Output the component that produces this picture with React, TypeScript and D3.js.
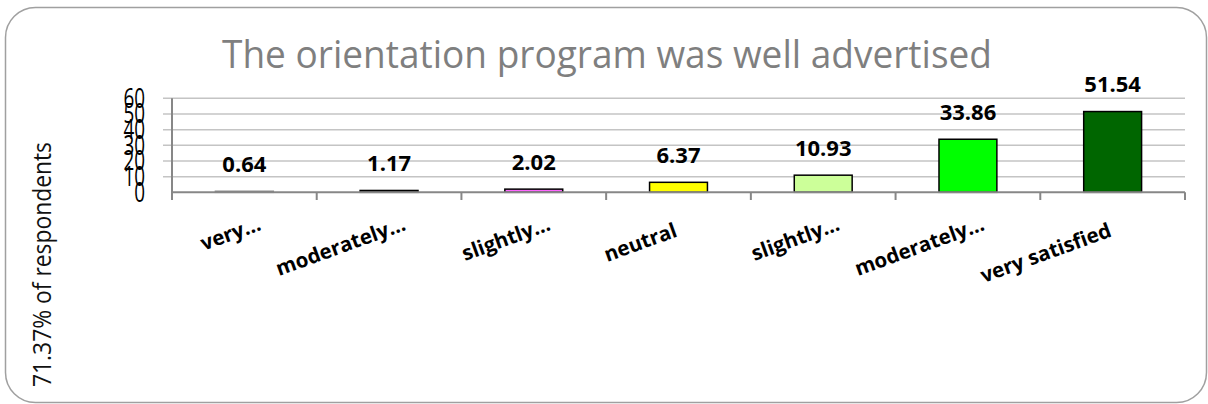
import React from 'react';
import * as d3 from 'd3';

// labels as shown on the chart (Excel truncated the long ones)
const categories = [
  'very…',
  'moderately…',
  'slightly…',
  'neutral',
  'slightly…',
  'moderately…',
  'very satisfied',
];
const values = [0.64, 1.17, 2.02, 6.37, 10.93, 33.86, 51.54];
const barColors = ['#808080', '#404040', '#ff66ff', '#ffff00', '#ccff99', '#00ff00', '#006600'];
const yTicks = [0, 10, 20, 30, 40, 50, 60];

const title = 'The orientation program was well advertised';
const yTitle = '71.37% of respondents';

const W = 1208;
const H = 404;
const plot = { left: 172, right: 1185, top: 98.3, bottom: 192.3 };

const App: React.FC = () => {
  const x = d3
    .scaleBand<number>()
    .domain(d3.range(categories.length))
    .range([plot.left, plot.right])
    .paddingInner(0.6)
    .paddingOuter(0.3);

  const y = d3.scaleLinear().domain([0, 60]).range([plot.bottom, plot.top]);

  const step = x.step();
  const font = '"Open Sans", sans-serif';

  return (
    <svg
      width={W}
      height={H}
      style={{ position: 'absolute', left: 0, top: 0, background: '#fff' }}
    >
      {/* chart frame */}
      <rect x={5.5} y={7.5} width={1201} height={395} rx={30} ry={30} fill="#fff" stroke="#a0a0a0" strokeWidth={1.5} />

      {/* title */}
      <text
        x={222}
        y={68}
        fontFamily={font}
        fontSize={39}
        fill="#7f7f7f"
        textLength={770}
        lengthAdjust="spacingAndGlyphs"
      >
        {title}
      </text>

      {/* y axis title */}
      <text
        transform="translate(50.5,264.5) rotate(-90)"
        textAnchor="middle"
        fontFamily={font}
        fontSize={25}
        fill="#111"
        textLength={245}
        lengthAdjust="spacingAndGlyphs"
      >
        {yTitle}
      </text>

      {/* gridlines */}
      <g>
        {yTicks.slice(1).map((t) => (
          <line key={t} x1={163} x2={plot.right} y1={y(t)} y2={y(t)} stroke="#c4c4c4" strokeWidth={1.5} />
        ))}
      </g>

      {/* y tick labels, tall and narrow like the original */}
      <g fontFamily={font} fontSize={27} fill="#000">
        {yTicks.map((t) => (
          <text
            key={t}
            transform={`translate(145,${y(t) - 1}) scale(0.7,1)`}
            textAnchor="end"
            dominantBaseline="central"
          >
            {t}
          </text>
        ))}
      </g>

      {/* bars */}
      <g>
        {values.map((v, i) => (
          <rect
            key={i}
            x={x(i)}
            y={y(v)}
            width={x.bandwidth()}
            height={plot.bottom - y(v)}
            fill={barColors[i]}
            stroke={i === 0 ? '#7f7f7f' : '#000'}
            strokeWidth={1.5}
          />
        ))}
      </g>

      {/* axes */}
      <g stroke="#878787" strokeWidth={2}>
        <line x1={plot.left} x2={plot.left} y1={plot.top} y2={200} />
        <line x1={plot.left} x2={plot.right} y1={plot.bottom} y2={plot.bottom} />
        {categories.map((_, i) => (
          <line key={i} x1={plot.left + (i + 1) * step} x2={plot.left + (i + 1) * step} y1={plot.bottom} y2={200} />
        ))}
      </g>

      {/* value labels */}
      <g fontFamily={font} fontSize={22} fontWeight="bold" fill="#000" textAnchor="middle">
        {values.map((v, i) => (
          <text key={i} x={(x(i) as number) + x.bandwidth() / 2} y={y(v) - 19.5}>
            {v.toFixed(2)}
          </text>
        ))}
      </g>

      {/* category labels */}
      <g fontFamily={font} fontSize={20.5} fontWeight="bold" fill="#000">
        {categories.map((c, i) => {
          const cx = (x(i) as number) + x.bandwidth() / 2;
          const shift = c.endsWith('…') ? 19 : 0;
          return (
            <text key={i} transform={`translate(${cx},236) rotate(-20)`} x={shift} textAnchor="end">
              {c}
            </text>
          );
        })}
      </g>
    </svg>
  );
};

export default App;
